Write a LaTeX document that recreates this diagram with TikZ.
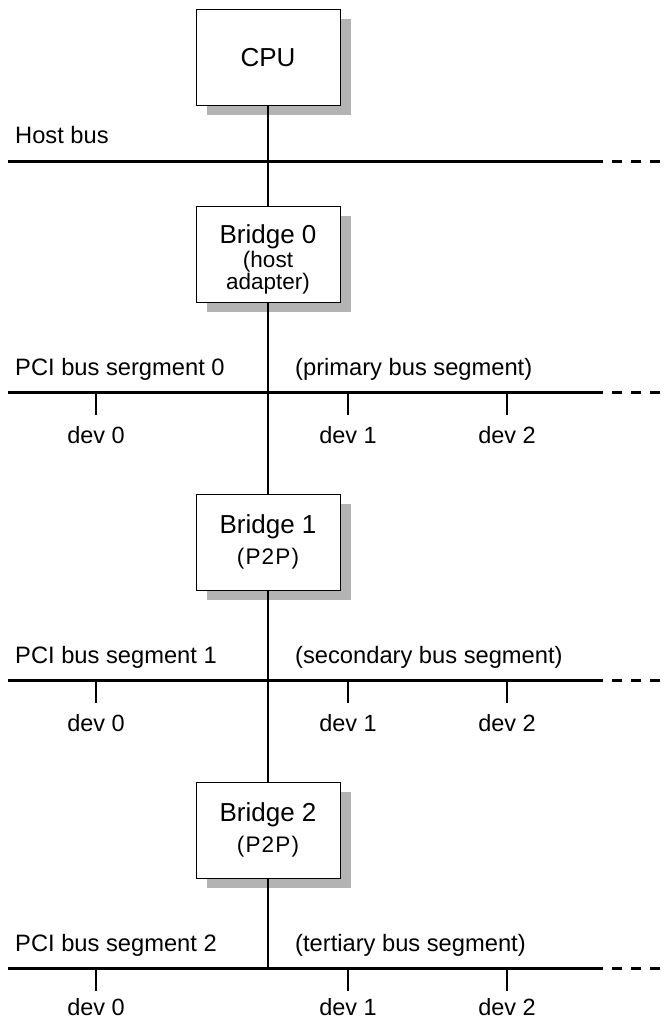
\documentclass[tikz,border=0pt]{standalone}
\usepackage{fontspec}
\setmainfont{Liberation Sans}
\newfontfamily\ptpfont[LetterSpace=5]{Liberation Sans}
\definecolor{shadowgray}{HTML}{B3B3B3}
\begin{document}
\begin{tikzpicture}[x=1pt,y=-1pt,
  box/.style={draw=black, line width=1pt, fill=white, minimum width=144pt, minimum height=96pt, inner sep=0pt},
  shade/.style={fill=shadowgray, draw=none},
  title/.style={font=\fontsize{26}{28}\selectfont, inner sep=0pt, anchor=base},
  sub/.style={font=\fontsize{22.5}{24}\selectfont, inner sep=0pt, anchor=base},
  lbl/.style={font=\fontsize{23.7}{27}\selectfont, inner sep=0pt, anchor=base west},
  devl/.style={font=\fontsize{23.5}{27}\selectfont, inner sep=0pt, anchor=base},
  bus/.style={line width=3pt},
  busdash/.style={line width=3pt, dash pattern=on 10pt off 9pt},
  trunk/.style={line width=2.5pt},
  tick/.style={line width=2.2pt}]
\useasboundingbox (0,0) rectangle (669,1021);

% shadows
\fill[shade] (207,19) rectangle (351,115);
\fill[shade] (207,216) rectangle (351,312);
\fill[shade] (207,504) rectangle (351,600);
\fill[shade] (207,792) rectangle (351,888);

% boxes
\node[box] (cpu) at (268,57) {};
\node[box] (b0) at (268,254) {};
\node[box] (b1) at (268,542) {};
\node[box] (b2) at (268,830) {};

% box texts
\node[title] (cpuT) at (268,66) {CPU};
\node[title] (b0T) at (268,243) {Bridge 0};
\node[sub] (b0S) at (268,267) {(host};
\node[sub] (b0U) at (268,289) {adapter)};
\node[title] (b1T) at (268,533) {Bridge 1};
\node[sub] (b1S) at (268,564) {\ptpfont(P2P)};
\node[title] (b2T) at (268,821) {Bridge 2};
\node[sub] (b2S) at (268,852) {\ptpfont(P2P)};

% host bus
\node[lbl] (hbL) at (15,143) {Host bus};
\coordinate (hbW) at (8,161.5);
\coordinate (hbE) at (603,161.5);
\coordinate (hbD) at (612,161.5);
\coordinate (hbF) at (660,161.5);
\draw[bus] (hbW) -- (hbE);
\draw[busdash] (hbD) -- (hbF);

% PCI buses
\foreach \i/\y/\dy/\l/\r in {0/392/51/{PCI bus sergment 0}/{(primary bus segment)},
                          1/680/51/{PCI bus segment 1}/{(secondary bus segment)},
                          2/968/47/{PCI bus segment 2}/{(tertiary bus segment)}}{
  \node[lbl] (busL\i) at (15,\y-17) {\l};
  \node[lbl] (busR\i) at (295,\y-17) {\r};
  \coordinate (busW\i) at (8,\y);
  \coordinate (busE\i) at (603,\y);
  \coordinate (busD\i) at (612,\y);
  \coordinate (busF\i) at (660,\y);
  \draw[bus] (busW\i) -- (busE\i);
  \draw[busdash] (busD\i) -- (busF\i);
  \foreach \d/\x in {0/96,1/348,2/507}{
    \coordinate (tk\i\d) at (\x,\y);
    \coordinate (tkb\i\d) at (\x,\y+23);
    \draw[tick] (tk\i\d) -- (tkb\i\d);
    \node[devl] (dev\i\d) at (\x,\y+\dy) {dev \d};
  }
}
\coordinate (trunkEnd) at (268,968);

% trunk
\draw[trunk] (cpu.south) -- (b0.north);
\draw[trunk] (b0.south) -- (b1.north);
\draw[trunk] (b1.south) -- (b2.north);
\draw[trunk] (b2.south) -- (trunkEnd);
\end{tikzpicture}
\end{document}
